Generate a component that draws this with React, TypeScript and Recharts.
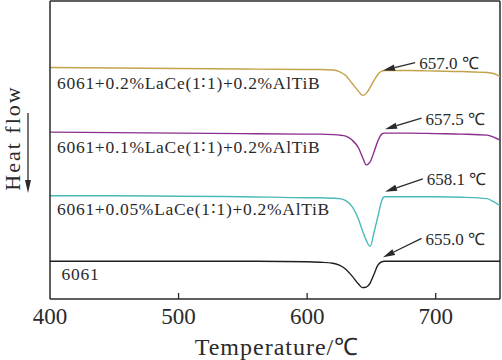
import React from 'react';
import { LineChart, Line, XAxis, YAxis, ReferenceLine, ReferenceDot, Label } from 'recharts';

// temperature grid (°C)
const temps = [400, 450, 500, 550, 600, 610, 620, 625, 630, 635, 640, 643, 646, 649, 652, 655, 658, 660, 680, 700, 720, 740, 745, 750];

// heat flow (offset curves, arbitrary units)
const alloy02 = [233, 232.5, 232, 231.5, 231, 231, 230.5, 229, 225, 217, 209, 205, 207, 213, 220, 226, 229.5, 230, 230, 229.5, 229, 228, 227, 224];
const alloy01 = [168, 167.5, 167, 166.5, 166, 166, 165.5, 165, 164, 160, 152, 143, 135, 138, 148, 159, 166, 167, 167, 166.5, 166, 165, 163, 160];
const alloy005 = [104, 104, 103.5, 103, 102, 102, 101.5, 101, 99, 93, 80, 69, 59, 53, 67, 83, 99, 103, 103, 103, 102.5, 101, 98, 94];
const base6061 = [38, 38, 38, 38, 37.5, 37, 36, 34, 30, 23, 15, 11.5, 12, 16, 25, 34, 37.5, 38, 38, 38, 38, 38, 38, 38];

const seriesKeys = ['a02', 'a01', 'a005', 'b'];
const seriesColors = ['#c3a24c', '#8c2f8c', '#4bb9b9', '#1e1e1e'];
const seriesNames = [
  '6061+0.2%LaCe(1∶1)+0.2%AlTiB',
  '6061+0.1%LaCe(1∶1)+0.2%AlTiB',
  '6061+0.05%LaCe(1∶1)+0.2%AlTiB',
  '6061',
];
const nameAnchors = [
  [405.5, 217],
  [405.5, 153],
  [405.5, 91],
  [409, 25],
];

const peakLabels = ['657.0 ℃', '657.5 ℃', '658.1 ℃', '655.0 ℃'];
const arrowTips = [
  [659, 230],
  [660.6, 171],
  [660.6, 108],
  [659, 42],
];
const arrowTails = [
  [684, 238],
  [689, 182],
  [690, 121],
  [689, 61],
];

const xTicks = [400, 500, 600, 700];

const data = temps.map((t, i) => ({
  t,
  a02: alloy02[i],
  a01: alloy01[i],
  a005: alloy005[i],
  b: base6061[i],
}));

const FONT = '"Liberation Serif", "Times New Roman", serif';
const INK = '#2a2a2a';

const Arrow = (props: any) => {
  const { x1, y1, x2, y2 } = props;
  const ang = Math.atan2(y2 - y1, x2 - x1);
  const len = 12;
  const w = 3.2;
  const bx = x2 - len * Math.cos(ang);
  const by = y2 - len * Math.sin(ang);
  const px = -Math.sin(ang) * w;
  const py = Math.cos(ang) * w;
  return (
    <g>
      <line x1={x1} y1={y1} x2={bx} y2={by} stroke={INK} strokeWidth={1.3} />
      <polygon points={`${x2},${y2} ${bx + px},${by + py} ${bx - px},${by - py}`} fill={INK} />
    </g>
  );
};

const XTick = (props: any) => {
  const { x, y, payload } = props;
  return (
    <g>
      {payload.value !== 400 && <line x1={x} y1={y} x2={x} y2={y - 6} stroke={INK} strokeWidth={1.3} />}
      <text x={x} y={y + 25} textAnchor="middle" fontFamily={FONT} fontSize={23} fill={INK}>
        {payload.value}
      </text>
    </g>
  );
};

const HeatFlowLabel = (props: any) => {
  const { viewBox } = props;
  const cy = viewBox.y + viewBox.height / 2 - 12;
  const cx = viewBox.x + 12.5;
  const ax = viewBox.x + 28;
  return (
    <g>
      <text
        x={cx}
        y={cy}
        transform={`rotate(-90 ${cx} ${cy})`}
        textAnchor="middle"
        dominantBaseline="central"
        fontFamily={FONT}
        fontSize={22}
        letterSpacing={2}
        fill={INK}
      >
        Heat flow
      </text>
      <line x1={ax} y1={113} x2={ax} y2={182} stroke={INK} strokeWidth={1.3} />
      <polygon points={`${ax},${193} ${ax - 3},${180} ${ax + 3},${180}`} fill={INK} />
    </g>
  );
};

const TempLabel = (props: any) => {
  const { viewBox } = props;
  return (
    <text
      x={viewBox.x + viewBox.width / 2 + 2}
      y={viewBox.y + 56}
      textAnchor="middle"
      fontFamily={FONT}
      fontSize={24}
      letterSpacing={1}
      fill={INK}
    >
      Temperature/℃
    </text>
  );
};

export default function App() {
  return (
    <div style={{ position: 'absolute', left: 0, top: 0, background: '#fff' }}>
      <LineChart width={502} height={360} data={data} margin={{ top: 1, right: 2, bottom: 0, left: 0 }}>
        <XAxis
          dataKey="t"
          type="number"
          domain={[400, 750]}
          ticks={xTicks}
          tickLine={false}
          tickSize={0}
          tickMargin={0}
          tick={<XTick />}
          height={61}
          axisLine={{ stroke: INK, strokeWidth: 1.5 }}
          allowDataOverflow
        >
          <Label content={<TempLabel />} />
        </XAxis>
        <YAxis
          type="number"
          domain={[0, 300]}
          tick={false}
          tickLine={false}
          width={50}
          axisLine={{ stroke: INK, strokeWidth: 1.5 }}
          allowDataOverflow
        >
          <Label content={<HeatFlowLabel />} />
        </YAxis>
        <ReferenceLine y={300} stroke={INK} strokeWidth={1.5} />
        <ReferenceLine x={750} stroke={INK} strokeWidth={1.5} />
        {seriesKeys.map((k, i) => (
          <Line
            key={k}
            dataKey={k}
            type="monotone"
            stroke={seriesColors[i]}
            strokeWidth={1.4}
            dot={false}
            activeDot={false}
            isAnimationActive={false}
          />
        ))}
        {seriesNames.map((n, i) => (
          <ReferenceDot
            key={n}
            x={nameAnchors[i][0]}
            y={nameAnchors[i][1]}
            r={1}
            shape={(p: any) => (
              <text
                x={p.cx}
                y={p.cy}
                dominantBaseline="central"
                fontFamily={FONT}
                fontSize={17.5}
                letterSpacing={0.7}
                fill={INK}
              >
                {n}
              </text>
            )}
          />
        ))}
        {peakLabels.map((lbl, i) => (
          <ReferenceLine
            key={lbl}
            segment={[
              { x: arrowTails[i][0], y: arrowTails[i][1] },
              { x: arrowTips[i][0], y: arrowTips[i][1] },
            ]}
            shape={<Arrow />}
          />
        ))}
        {peakLabels.map((lbl, i) => (
          <ReferenceDot
            key={'t' + lbl}
            x={arrowTails[i][0]}
            y={arrowTails[i][1]}
            r={1}
            shape={(p: any) => (
              <text x={p.cx + 4} y={p.cy + 1} dominantBaseline="central" fontFamily={FONT} fontSize={17} fill={INK}>
                {lbl}
              </text>
            )}
          />
        ))}
      </LineChart>
    </div>
  );
}
